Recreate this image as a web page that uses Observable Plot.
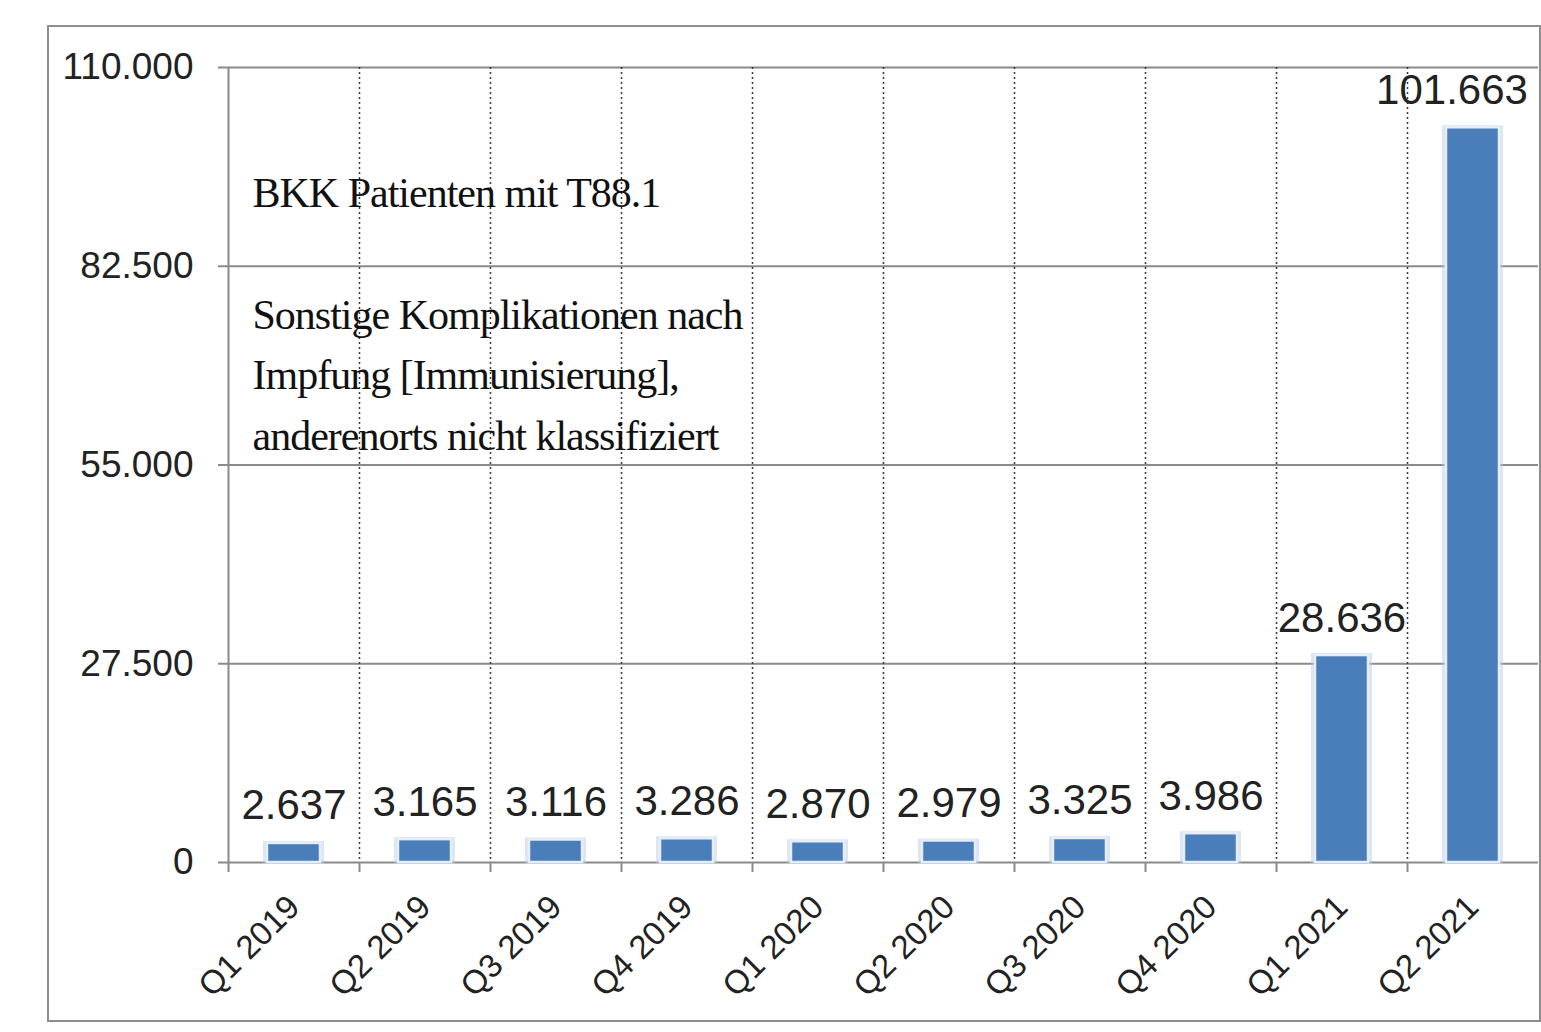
<!DOCTYPE html>
<html>
<head>
<meta charset="utf-8">
<script src="https://cdn.jsdelivr.net/npm/d3@7"></script>
<script src="https://cdn.jsdelivr.net/npm/@observablehq/plot@0.6"></script>
<style>
  html, body { margin: 0; padding: 0; background: #fff; }
  #wrap { position: relative; width: 1541px; height: 1032px; overflow: hidden; }
  #border { position: absolute; left: 47px; top: 25px; width: 1490px; height: 993px; border: 2px solid #8e8e8e; pointer-events: none; }
  svg { position: absolute; left: 0; top: 0; }
</style>
</head>
<body>
<div id="wrap"><div id="border"></div></div>
<script>
// ---- data ----
const categories = ["Q1 2019", "Q2 2019", "Q3 2019", "Q4 2019", "Q1 2020", "Q2 2020", "Q3 2020", "Q4 2020", "Q1 2021", "Q2 2021"];
const values = [2637, 3165, 3116, 3286, 2870, 2979, 3325, 3986, 28636, 101663];
const yTicks = [0, 27500, 55000, 82500, 110000];
const titleLine = "BKK Patienten mit T88.1";
const descriptionLines = ["Sonstige Komplikationen nach", "Impfung [Immunisierung],", "anderenorts nicht klassifiziert"];

// ---- build ----
const de = d3.formatLocale({decimal: ",", thousands: ".", grouping: [3], currency: ["", " €"]});
const fmt = de.format(",d");
const table = categories.map((c, i) => ({i, category: c, value: values[i]}));
const sans = "'Liberation Sans', Arial, sans-serif";
const serif = "'Liberation Serif', 'Times New Roman', serif";
const last = table.length - 1;

const chart = Plot.plot({
  width: 1541,
  height: 1032,
  marginLeft: 228,
  marginRight: 3,
  marginTop: 67,
  marginBottom: 170,
  style: {background: "transparent", fontFamily: sans, color: "#222"},
  x: {type: "linear", domain: [0, categories.length], axis: null},
  y: {domain: [0, 110000], axis: null},
  marks: [
    Plot.gridY({ticks: yTicks, stroke: "#8a8a8a", strokeOpacity: 1, strokeWidth: 2}),
    Plot.gridX({ticks: d3.range(1, categories.length), stroke: "#3a3a3a", strokeOpacity: 1, strokeWidth: 1.5, strokeDasharray: "2,3"}),
    Plot.ruleX([0], {stroke: "#8a8a8a", strokeWidth: 2}),
    Plot.axisY({ticks: yTicks, tickFormat: fmt, label: null, tickSize: 10, tickPadding: 25, fontSize: 37, stroke: "#8a8a8a", strokeWidth: 2, fill: "#222", fontFamily: sans}),
    Plot.axisX({ticks: d3.range(0, categories.length), label: null, tickSize: 10, tickFormat: () => "", stroke: "#8a8a8a", strokeWidth: 2}),
    Plot.axisX({ticks: d3.range(0, categories.length).map(i => i + 0.5), label: null, tickFormat: v => categories[Math.floor(v)], tickSize: 0, tickPadding: 39, tickRotate: -45, fontSize: 33, fill: "#222", fontFamily: sans}),
    // soft glow behind bars
    Plot.rectY(table, {x1: "i", x2: d => d.i + 1, y: "value", insetLeft: 37, insetRight: 37, fill: "none", stroke: "#b9cde6", strokeWidth: 4, strokeOpacity: 0.5}),
    Plot.rectY(table, {x1: "i", x2: d => d.i + 1, y: "value", insetLeft: 39, insetRight: 39, fill: "#4a7ebb", stroke: "#e6eff9", strokeWidth: 2.5}),
    Plot.text(table.filter(d => d.i !== last), {x: d => d.i + 0.5, y: "value", text: d => fmt(d.value), dy: -24, lineAnchor: "bottom", fontSize: 42, fill: "#222", fontFamily: sans}),
    Plot.text(table.filter(d => d.i === last), {x: d => d.i + 0.5, y: "value", text: d => fmt(d.value), dy: -24, dx: -21, lineAnchor: "bottom", fontSize: 42, fill: "#222", fontFamily: sans}),
    Plot.text([[titleLine, "", ...descriptionLines].join("\n")], {frameAnchor: "top-left", dx: 24, dy: 96, lineAnchor: "top", textAnchor: "start", lineHeight: 1.45, fontSize: 42, fill: "#111", fontFamily: serif})
  ]
});
// tighten the serif annotation slightly, like the original's narrower Times rendering
d3.select(chart).selectAll("g").filter(function () {
  return (this.getAttribute("font-family") || "").includes("Liberation Serif");
}).attr("letter-spacing", "-1px");
document.getElementById("wrap").insertBefore(chart, document.getElementById("border"));
</script>
</body>
</html>
